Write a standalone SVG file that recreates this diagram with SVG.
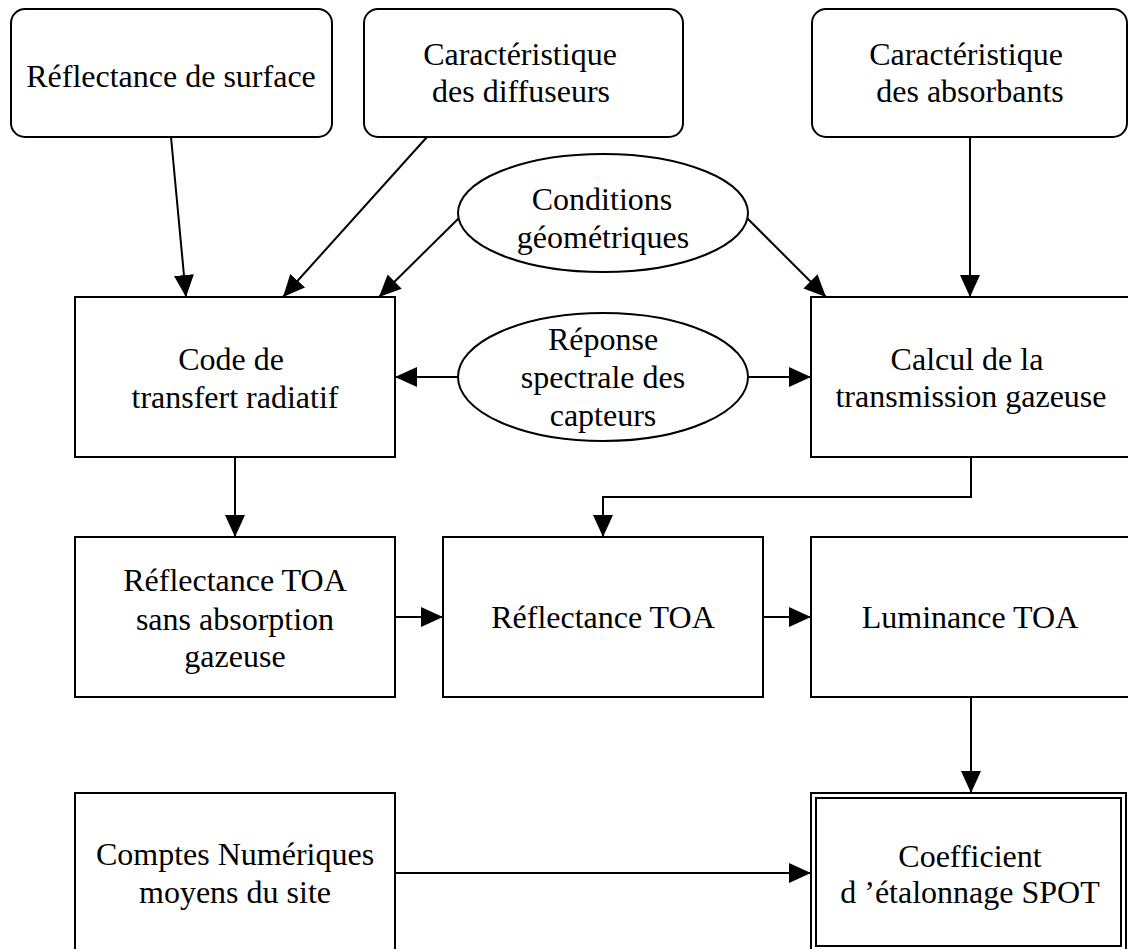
<svg xmlns="http://www.w3.org/2000/svg" width="1128" height="949" viewBox="0 0 1128 949">
<style>
.b{fill:#fff;stroke:#000;stroke-width:2}
.t{font-family:"Liberation Serif","Times New Roman",serif;font-size:32px;fill:#000;text-anchor:middle}
.c{fill:none;stroke:#000;stroke-width:2}
</style>
<defs>
<marker id="ah" markerUnits="userSpaceOnUse" markerWidth="24" markerHeight="22" refX="22" refY="10" orient="auto">
<path d="M0,0 L22,10 L0,20 z" fill="#000"/>
</marker>
</defs>
<rect width="1128" height="949" fill="#fff"/>
<g id="connectors">
<path class="c" d="M171,137 L186,297" marker-end="url(#ah)"/>
<path class="c" d="M427,137 L283,297" marker-end="url(#ah)"/>
<path class="c" d="M459,218 L379,297" marker-end="url(#ah)"/>
<path class="c" d="M747,218 L826,297" marker-end="url(#ah)"/>
<path class="c" d="M970,137 L970,297" marker-end="url(#ah)"/>
<path class="c" d="M458,377 L395,377" marker-end="url(#ah)"/>
<path class="c" d="M748,377 L811,377" marker-end="url(#ah)"/>
<path class="c" d="M235,457 L235,537" marker-end="url(#ah)"/>
<path class="c" d="M971,457 L971,497 L603,497 L603,537" marker-end="url(#ah)"/>
<path class="c" d="M395,617 L443,617" marker-end="url(#ah)"/>
<path class="c" d="M763,617 L811,617" marker-end="url(#ah)"/>
<path class="c" d="M971,697 L971,793" marker-end="url(#ah)"/>
<path class="c" d="M395,873 L811,873" marker-end="url(#ah)"/>
</g>
<g id="n-surface">
<rect class="b" x="11" y="9" width="321" height="128" rx="14"/>
<text class="t" x="171" y="87">Réflectance de surface</text>
</g>
<g id="n-diffuseurs">
<rect class="b" x="364" y="9" width="319" height="128" rx="14"/>
<text class="t" x="520" y="65">Caractéristique</text>
<text class="t" x="521" y="102">des diffuseurs</text>
</g>
<g id="n-absorbants">
<rect class="b" x="812" y="9" width="315" height="128" rx="14"/>
<text class="t" x="966" y="65">Caractéristique</text>
<text class="t" x="970" y="102">des absorbants</text>
</g>
<g id="n-conditions">
<ellipse class="b" cx="603" cy="213" rx="145" ry="59"/>
<text class="t" x="602" y="210">Conditions</text>
<text class="t" x="603" y="248">géométriques</text>
</g>
<g id="n-code">
<rect class="b" x="75" y="297" width="320" height="160"/>
<text class="t" x="231" y="370">Code de</text>
<text class="t" x="235" y="408">transfert radiatif</text>
</g>
<g id="n-reponse">
<ellipse class="b" cx="603" cy="377" rx="145" ry="64"/>
<text class="t" x="603" y="350">Réponse</text>
<text class="t" x="603" y="388">spectrale des</text>
<text class="t" x="603" y="426">capteurs</text>
</g>
<g id="n-calcul">
<rect class="b" x="811" y="297" width="320" height="160"/>
<text class="t" x="967" y="370">Calcul de la</text>
<text class="t" x="971" y="407">transmission gazeuse</text>
</g>
<g id="n-refl-sans">
<rect class="b" x="75" y="537" width="320" height="160"/>
<text class="t" x="235" y="591">Réflectance TOA</text>
<text class="t" x="235" y="630">sans absorption</text>
<text class="t" x="235" y="667">gazeuse</text>
</g>
<g id="n-refl-toa">
<rect class="b" x="443" y="537" width="320" height="160"/>
<text class="t" x="603" y="628">Réflectance TOA</text>
</g>
<g id="n-luminance">
<rect class="b" x="811" y="537" width="320" height="160"/>
<text class="t" x="970" y="628">Luminance TOA</text>
</g>
<g id="n-comptes">
<rect class="b" x="75" y="793" width="320" height="162"/>
<text class="t" x="235" y="865">Comptes Numériques</text>
<text class="t" x="235" y="903">moyens du site</text>
</g>
<g id="n-coefficient">
<rect class="b" x="811" y="793" width="315" height="157"/>
<rect class="b" x="816" y="798" width="305" height="148"/>
<text class="t" x="970" y="867">Coefficient</text>
<text class="t" x="970" y="903">d ’étalonnage SPOT</text>
</g>
</svg>
